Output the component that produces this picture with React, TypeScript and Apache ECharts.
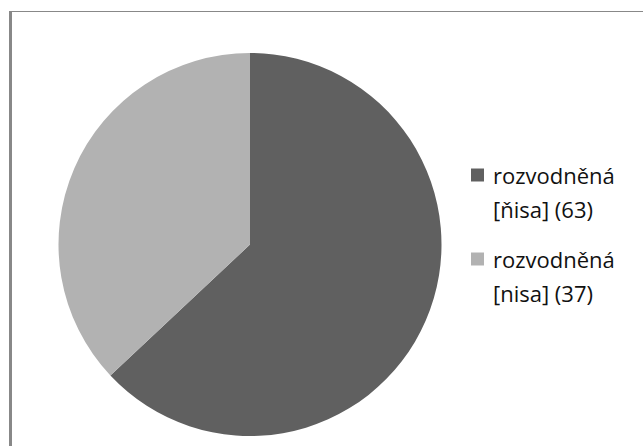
import React, { useEffect, useRef } from "react";
import * as echarts from "echarts";

const categories = ["rozvodněná\n[ňisa] (63)", "rozvodněná\n[nisa] (37)"];
const values = [63, 37];
const colors = ["#606060", "#b2b2b2"];

export default function App() {
  const ref = useRef<HTMLDivElement>(null);
  useEffect(() => {
    const chart = echarts.init(ref.current!, null, { renderer: "svg" });
    chart.setOption({
      animation: false,
      backgroundColor: "#ffffff",
      color: colors,
      legend: {
        orient: "vertical",
        left: 471,
        top: 124,
        padding: 0,
        itemGap: -18,
        itemWidth: 13,
        itemHeight: 13,
        icon: "rect",
        selectedMode: false,
        formatter: (name: string) => "\n" + name,
        data: categories.map((c) => ({ name: c, itemStyle: { borderWidth: 0 } })),
        textStyle: {
          fontFamily: "Open Sans",
          fontSize: 22,
          lineHeight: 34,
          color: "#111111",
          padding: [0, 0, 0, 4],
        },
      },
      graphic: [
        { type: "line", shape: { x1: 9, y1: 11.5, x2: 643, y2: 11.5 }, style: { stroke: "#888888", lineWidth: 1 } },
        { type: "line", shape: { x1: 10.5, y1: 11, x2: 10.5, y2: 446 }, style: { stroke: "#888888", lineWidth: 3 } },
      ],
      series: [
        {
          type: "pie",
          center: [250, 244.5],
          radius: 191.5,
          startAngle: 90,
          clockwise: true,
          label: { show: false },
          labelLine: { show: false },
          emphasis: { disabled: true },
          itemStyle: { borderWidth: 0 },
          data: categories.map((c, i) => ({ name: c, value: values[i] })),
        },
      ],
    });
    return () => chart.dispose();
  }, []);
  return <div ref={ref} style={{ position: "fixed", left: 0, top: 0, width: 643, height: 446 }} />;
}
